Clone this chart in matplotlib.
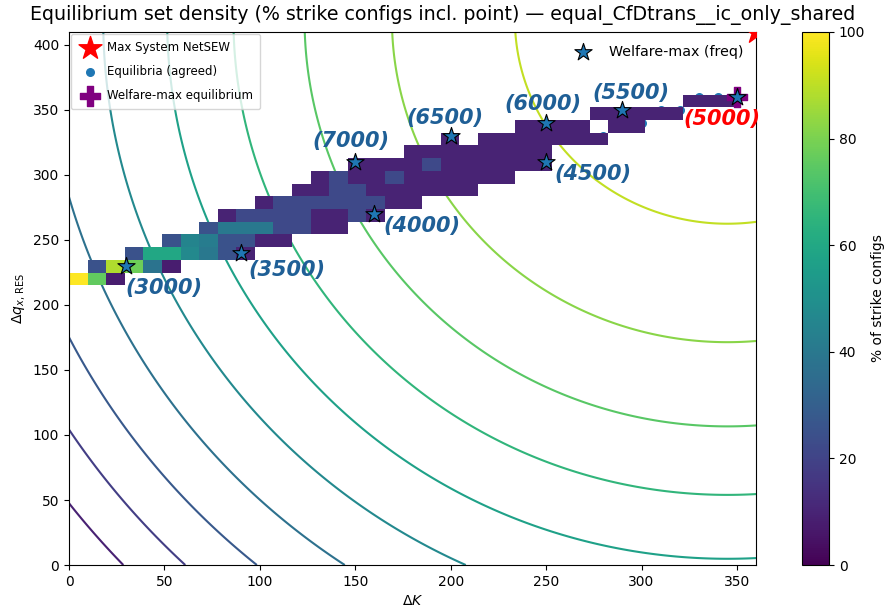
import numpy as np
import matplotlib.pyplot as plt
from matplotlib.colors import Normalize

# grid of deltas: K = 0..360 step 10, q = 0..410 step 10
K_vals = np.arange(0, 370, 10)
q_vals = np.arange(0, 420, 10)

# density (% of strike configs including the point), per q-row: first K index + values (0 = empty)
row_q_index = [22, 23, 24, 25, 26, 27, 28, 29, 30, 31, 32, 33, 34, 35, 36]
row_first_k = [0, 1, 3, 5, 7, 8, 10, 12, 13, 15, 18, 20, 24, 28, 33]
row_pct = [
    [100, 76, 8],
    [25, 88, 78, 38, 8],
    [25, 60, 60, 47, 40, 25, 10],
    [25, 45, 42, 25, 25, 10, 10],
    [25, 40, 40, 40, 22, 22, 10, 10],
    [10, 22, 22, 22, 22, 10, 10, 22, 10],
    [10, 22, 22, 22, 22, 22, 22, 10, 10],
    [10, 10, 22, 22, 10, 10, 10, 10, 10, 10],
    [10, 22, 10, 10, 22, 10, 10, 10, 10, 10, 10],
    [10, 10, 10, 10, 22, 10, 10, 10, 10, 10, 10],
    [10, 10, 10, 10, 10, 10, 10, 10],
    [10, 0, 10, 10, 10, 10, 10, 10, 10],
    [10, 10, 10, 10, 0, 10, 10],
    [10, 10, 10, 10, 10],
    [10, 10, 10],
]

# welfare-max by frequency for each strike level
star_K = [30, 90, 160, 150, 200, 250, 250, 290, 350]
star_q = [230, 240, 270, 310, 330, 310, 340, 350, 360]
star_lbl = ['(3000)', '(3500)', '(4000)', '(7000)', '(6500)', '(4500)', '(6000)', '(5500)', '(5000)']
lbl_offset = [(27, -16), (33, -12), (34, -9), (-3, 15), (-4, 13), (34, -9), (-2, 14), (6, 12), (-11, -16)]

# agreed equilibria visible near the top of the set
eq_K = [280, 300, 310, 320, 330, 340, 350]
eq_q = [330, 340, 350, 350, 360, 360, 360]
best_eq = (350, 360)
sys_max = (360, 410)

# system NetSEW surface (in thousands), contour levels
sew_levels = [-188.4, -168.9, -149.0, -128.4, -107.0, -86.2, -67.0, -49.1, -30.9, -12.4]

dens = np.full((len(q_vals), len(K_vals)), np.nan)
for j, k0, vals in zip(row_q_index, row_first_k, row_pct):
    dens[j, k0:k0 + len(vals)] = vals
dens[dens == 0] = np.nan
dens = np.ma.masked_invalid(dens)

KK, QQ = np.meshgrid(np.linspace(0, 360, 300), np.linspace(0, 410, 300))
sew = -((KK - 345) ** 2 + 0.5 * (QQ - 420) ** 2) / 1000.0

fig = plt.figure(figsize=(8.86, 6.14), dpi=100)
ax = fig.add_axes([0.0779, 0.0798, 0.7754, 0.8681])
cax = fig.add_axes([0.9052, 0.0798, 0.0305, 0.8681])

ax.contour(KK, QQ, sew, levels=sew_levels, cmap='viridis',
           norm=Normalize(-208, 7), linewidths=1.5, zorder=1)
h_max = ax.scatter([sys_max[0]], [sys_max[1]], marker='*', s=300, color='red', zorder=4)
h_eq = ax.scatter(eq_K, eq_q, s=30, color='tab:blue', zorder=1.5)
im = ax.imshow(dens, origin='lower', extent=[0, 360, 0, 410], aspect='auto',
               cmap='viridis', vmin=0, vmax=100, interpolation='nearest', zorder=2)
h_best = ax.scatter([best_eq[0]], [best_eq[1]], marker='P', s=200, color='purple', zorder=3)
stars = ax.scatter(star_K, star_q, marker='*', s=170, color='tab:blue', edgecolors='black',
                   linewidths=0.8, zorder=5)

for x, y, t, off in zip(star_K, star_q, star_lbl, lbl_offset):
    c = 'red' if t == '(5000)' else '#1f5f96'
    ax.annotate(t, (x, y), xytext=off, textcoords='offset points', ha='center', va='center',
                fontsize=15, fontweight='bold', fontstyle='italic', color=c, zorder=6)

ax.set_xlim(0, 360)
ax.set_ylim(0, 410)
ax.set_xlabel(r'$\Delta K$')
ax.set_ylabel(r'$\Delta q_{x,\,\mathrm{RES}}$')
fig.suptitle('Equilibrium set density (% strike configs incl. point) — equal_CfDtrans__ic_only_shared',
             fontsize=13.7, x=0.5, y=0.976, va='center')

leg1 = ax.legend([h_max, h_eq, h_best],
                 ['Max System NetSEW', 'Equilibria (agreed)', 'Welfare-max equilibrium'],
                 loc='upper left', fontsize=8.5, labelspacing=0.95, borderaxespad=0.15,
                 borderpad=0.6, handletextpad=0.45)
ax.add_artist(leg1)
ax.legend([stars], ['Welfare-max (freq)'], loc='upper right', frameon=False, fontsize=10.3)

cb = fig.colorbar(im, cax=cax)
cb.set_label('% of strike configs')

fig.savefig('out.png', dpi=100)
